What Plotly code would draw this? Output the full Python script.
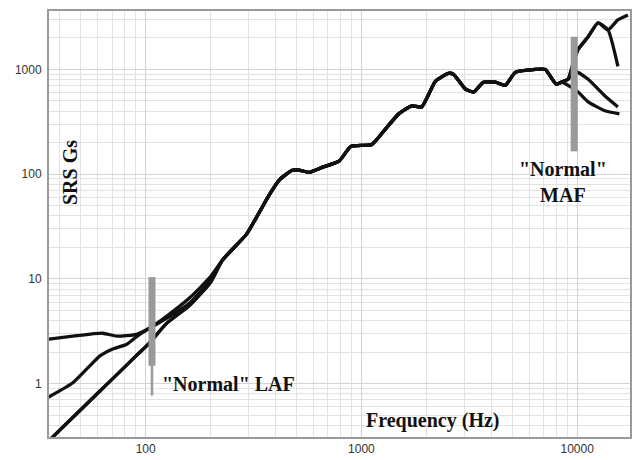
import math
import plotly.graph_objects as go

# ---------------- data ----------------
# low-frequency part of each SRS curve (Hz, Gs)
freq_low_A = [35.3, 46, 63.2, 73.4, 90.9, 104, 125, 160, 200]
srs_low_A = [2.66, 2.84, 3.03, 2.84, 2.96, 3.38, 4.4, 6.6, 10.5]
freq_low_B = [35.3, 46, 55.1, 61.4, 70.4, 81.7, 93.8, 104, 125, 160, 200]
srs_low_B = [0.74, 1.02, 1.48, 1.84, 2.14, 2.38, 2.96, 3.38, 4.2, 5.9, 9.7]
freq_low_C = [35, 50, 70, 90, 104, 125, 160, 200]
srs_low_C = [0.276, 0.564, 1.105, 1.83, 2.44, 3.76, 5.6, 9.3]
freq_low_D = [35, 50, 70, 90, 104, 125, 160, 200]
srs_low_D = [0.276, 0.564, 1.105, 1.83, 2.44, 3.76, 5.6, 9.3]

# common mid-frequency part (all curves coincide)
freq_mid = [227, 293, 326, 374, 416, 478, 514, 572, 657, 788, 894, 1118, 1298,
            1490, 1711, 1902, 2206, 2535, 2673, 3040, 3310, 3680, 4180, 4650,
            5170, 6400, 7110, 8000, 8440]
srs_mid = [15.1, 26.6, 38.5, 63.4, 87.8, 109, 109, 104, 116, 133, 184, 192, 272,
           376, 448, 438, 771, 916, 897, 647, 607, 754, 754, 706,
           937, 1000, 1000, 722, 754]

# high-frequency branches
freq_hi_A = [9080, 9550, 10100, 11250, 12500, 13900, 15450, 17200]
srs_hi_A = [805, 1114, 1545, 2047, 2775, 2383, 2965, 3300]
freq_hi_B = [9080, 9550, 10100, 11250, 12500, 13900, 15450]
srs_hi_B = [805, 1114, 1545, 2047, 2775, 2383, 1067]
freq_hi_C = [9080, 9790, 11250, 13460, 15450]
srs_hi_C = [805, 957, 805, 556, 438]
freq_hi_D = [8900, 10100, 11250, 13460, 15700]
srs_hi_D = [720, 607, 489, 402, 376]

# "Normal" level markers
laf_freq = 107
laf_bar = [1.48, 10.4]
laf_stem = [0.77, 1.48]
maf_freq = 9690
maf_bar = [165, 2047]

x_ticks = [100, 1000, 10000]
y_ticks = [1, 10, 100, 1000]

# ---------------- figure ----------------
fig = go.Figure()

curves = [
    (freq_low_A, srs_low_A, freq_hi_A, srs_hi_A),
    (freq_low_B, srs_low_B, freq_hi_B, srs_hi_B),
    (freq_low_C, srs_low_C, freq_hi_C, srs_hi_C),
    (freq_low_D, srs_low_D, freq_hi_D, srs_hi_D),
]
for fl, sl, fh, sh in curves:
    fig.add_trace(go.Scatter(
        x=fl + freq_mid + fh, y=sl + srs_mid + sh, mode="lines",
        line=dict(color="#111111", width=3.3, shape="spline", smoothing=0.5),
        showlegend=False, hoverinfo="skip"))

bar_col = "#9a9a9a"
fig.add_trace(go.Scatter(x=[laf_freq, laf_freq], y=laf_bar, mode="lines",
                         line=dict(color=bar_col, width=7), showlegend=False))
fig.add_trace(go.Scatter(x=[laf_freq, laf_freq], y=laf_stem, mode="lines",
                         line=dict(color=bar_col, width=2.5), showlegend=False))
fig.add_trace(go.Scatter(x=[maf_freq, maf_freq], y=maf_bar, mode="lines",
                         line=dict(color=bar_col, width=7), showlegend=False))

W, H = 636, 460
L, R, T, B = 49, 4, 11, 18
pw, ph = W - L - R, H - T - B


def px(xp):
    return (xp - L) / pw


def py(yp):
    return (H - B - yp) / ph


serif = "Liberation Serif, Times New Roman, serif"
txt = dict(family=serif, size=20, color="#111111")

annotations = [
    dict(text="<b>\"Normal\" LAF</b>", x=px(160), y=py(388), xanchor="left",
         yanchor="middle", font=txt),
    dict(text="<b>\"Normal\"<br>MAF</b>", x=px(565), y=py(184), xanchor="center",
         yanchor="middle", font=txt),
    dict(text="<b>Frequency (Hz)</b>", x=px(434), y=py(425), xanchor="center",
         yanchor="middle", font=txt),
    dict(text="<b>SRS Gs</b>", x=px(70), y=py(174), xanchor="center",
         yanchor="middle", textangle=-90, font=txt),
]
for a in annotations:
    a.update(xref="paper", yref="paper", showarrow=False)

minor_x = [k * 10 ** n for n in range(1, 5) for k in range(2, 10)]
minor_y = [k * 10 ** n for n in range(-1, 4) for k in range(2, 10)]

tickfont = dict(family="Liberation Sans, Arial, sans-serif", size=12, color="#333333")

fig.update_layout(
    width=W, height=H,
    margin=dict(l=L, r=R, t=T, b=B, pad=0),
    paper_bgcolor="white", plot_bgcolor="white",
    annotations=annotations,
    xaxis=dict(type="log", range=[1.552, 4.245], tickvals=x_ticks,
               ticktext=[str(v) for v in x_ticks], tickfont=tickfont,
               showgrid=True, gridcolor="#d4d4d4", gridwidth=1,
               minor=dict(tickvals=minor_x, showgrid=True, gridcolor="#e2e2e2", gridwidth=1),
               showline=True, linecolor="#9a9a9a", linewidth=2, mirror=True,
               ticks="", zeroline=False),
    yaxis=dict(type="log", range=[-0.509, 3.557], tickvals=y_ticks,
               ticktext=[str(v) for v in y_ticks], tickfont=tickfont,
               showgrid=True, gridcolor="#d4d4d4", gridwidth=1,
               minor=dict(tickvals=minor_y, showgrid=True, gridcolor="#e2e2e2", gridwidth=1),
               showline=True, linecolor="#9a9a9a", linewidth=2, mirror=True,
               ticks="", zeroline=False, ticklabelstandoff=3),
)

fig.write_html("out.html")
